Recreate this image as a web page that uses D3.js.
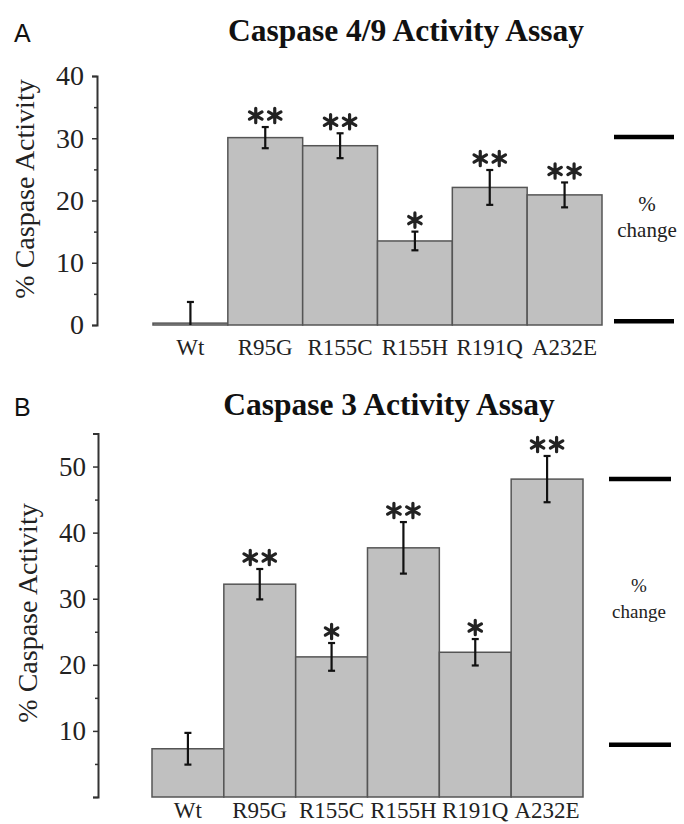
<!DOCTYPE html>
<html><head><meta charset="utf-8">
<script src="https://cdn.jsdelivr.net/npm/d3@7"></script>
<style>body{margin:0;background:#fff}svg{display:block}</style>
</head><body>
<svg id="c" width="684" height="824"></svg>
<script>
const categories = ["Wt","R95G","R155C","R155H","R191Q","A232E"];
const valuesA = [0.3, 30.1, 28.8, 13.5, 22.1, 20.9];
const errorsA = [3.4, 1.7, 2.0, 1.5, 2.8, 2.0];
const starsA = [0, 2, 2, 1, 2, 2];
const ticksA = [0,5,10,15,20,25,30,35,40];
const changeA = [30.2, 0.6];

const valuesB = [7.3, 32.2, 21.2, 37.7, 21.9, 48.1];
const errorsB = [2.4, 2.3, 2.1, 3.9, 2.0, 3.5];
const starsB = [0, 2, 1, 2, 1, 2];
const ticksB = [0,5,10,15,20,25,30,35,40,45,50];
const changeB = [48.1, 7.9];

const svg = d3.select("#c");
const serif = "'Liberation Serif','Times New Roman',serif";

function asterisk(cx, cy, r){
  let p = "";
  for (let k = 0; k < 3; k++){
    const a = Math.PI/2 + k*Math.PI/3;
    const dx = r*Math.cos(a), dy = r*Math.sin(a);
    p += `M${cx-dx},${cy-dy}L${cx+dx},${cy+dy}`;
  }
  return p;
}

function panel(o){
  const g = svg.append("g");
  const x = d3.scaleBand().domain(categories).range(o.xr).padding(0);
  const y = d3.scaleLinear().domain(o.yd).range(o.yr);
  g.append("text").attr("x",o.letterX).attr("y",o.letterY).text(o.letter)
    .attr("font-family","'Liberation Sans','DejaVu Sans',sans-serif").attr("font-size",25).attr("fill","#111");
  g.append("text").attr("x",o.titleX).attr("y",o.titleY).attr("text-anchor","middle").text(o.title)
    .attr("font-family",serif).attr("font-weight","bold").attr("font-size",31.5).attr("fill","#111");
  const ax = d3.axisLeft(y).tickValues(o.ticks).tickSizeOuter(0).tickSize(5).tickPadding(o.pad)
     .tickFormat(d => (d % 10 === 0 && o.labelled(d)) ? d : "");
  const ag = g.append("g").attr("transform",`translate(${o.axisX},0)`).call(ax);
  ag.select(".domain").attr("stroke","#333").attr("stroke-width",2);
  ag.selectAll(".tick line").attr("stroke","#333").attr("stroke-width",1.5)
    .attr("x2", d => d % 10 === 0 ? -5 : -3);
  ag.selectAll(".tick text").attr("font-family",serif).attr("font-size",o.tickFs).attr("fill","#222");
  g.append("text").attr("transform",`translate(${o.ylabX},${o.ylabY}) rotate(-90)`)
    .attr("text-anchor","middle").text("% Caspase Activity")
    .attr("font-family",serif).attr("font-size",28).attr("fill","#222");
  g.selectAll("rect.bar").data(o.values).join("rect").attr("class","bar")
    .attr("x",(d,i)=>x(categories[i])).attr("width",x.bandwidth())
    .attr("y",d=>y(d)).attr("height",d=>y(0)-y(d))
    .attr("fill","#c0c0c0").attr("stroke","#555").attr("stroke-width",1.5);
  const eg = g.append("g").attr("stroke","#111").attr("stroke-width",2.2);
  o.values.forEach((v,i)=>{
    const cx = x(categories[i]) + x.bandwidth()/2;
    const lo = Math.max(v - o.errors[i], o.yd[0]);
    const hi = v + o.errors[i];
    eg.append("line").attr("x1",cx).attr("x2",cx).attr("y1",y(lo)).attr("y2",y(hi));
    eg.append("line").attr("x1",cx-3.5).attr("x2",cx+3.5).attr("y1",y(hi)).attr("y2",y(hi));
    if (v - o.errors[i] > o.yd[0])
      eg.append("line").attr("x1",cx-3.5).attr("x2",cx+3.5).attr("y1",y(lo)).attr("y2",y(lo));
    const n = o.stars[i];
    for (let s = 0; s < n; s++){
      const sx = cx + (s - (n-1)/2) * 19;
      g.append("path").attr("d", asterisk(sx, y(hi) - 11.5, 7.2))
        .attr("stroke","#222").attr("stroke-width",3.2).attr("stroke-linecap","round").attr("fill","none");
    }
  });
  g.selectAll("text.xl").data(categories).join("text").attr("class","xl")
    .attr("x",d=>x(d)+x.bandwidth()/2).attr("y",y(0)+o.xlabDy).attr("text-anchor","middle")
    .text(d=>d).attr("font-family",serif).attr("font-size",o.xlabFs).attr("fill","#222");
  o.change.forEach(v=>{
    g.append("line").attr("x1",o.chX1).attr("x2",o.chX2).attr("y1",y(v)).attr("y2",y(v))
      .attr("stroke","#000").attr("stroke-width",4.5);
  });
  const cm = (y(o.change[0])+y(o.change[1]))/2;
  g.append("text").attr("x",o.chC).attr("y",cm+o.pDy).attr("text-anchor","middle").text("%")
    .attr("font-family",serif).attr("font-size",o.chFs).attr("fill","#222");
  g.append("text").attr("x",o.chC).attr("y",cm+o.cDy).attr("text-anchor","middle").text("change")
    .attr("font-family",serif).attr("font-size",o.chFs).attr("fill","#222");
}

panel({letter:"A",letterX:14,letterY:42,title:"Caspase 4/9 Activity Assay",titleX:406,titleY:41,
  xr:[153,602],yd:[0,40],yr:[325,76],ticks:ticksA,labelled:d=>true,axisX:97,pad:8,tickFs:28,
  ylabX:34,ylabY:189,values:valuesA,errors:errorsA,stars:starsA,xlabDy:30,xlabFs:23,
  change:changeA,chX1:614,chX2:674,chC:647,chFs:21,pDy:-18,cDy:8});

panel({letter:"B",letterX:14,letterY:416,title:"Caspase 3 Activity Assay",titleX:389,titleY:415,
  xr:[152,583],yd:[0,55],yr:[797,433.5],ticks:ticksB,labelled:d=>d>0,axisX:98,pad:7,tickFs:27,
  ylabX:37,ylabY:613,values:valuesB,errors:errorsB,stars:starsB,xlabDy:21,xlabFs:23,
  change:changeB,chX1:609,chX2:671,chC:639,chFs:19,pDy:-20,cDy:6});
</script>
</body></html>
